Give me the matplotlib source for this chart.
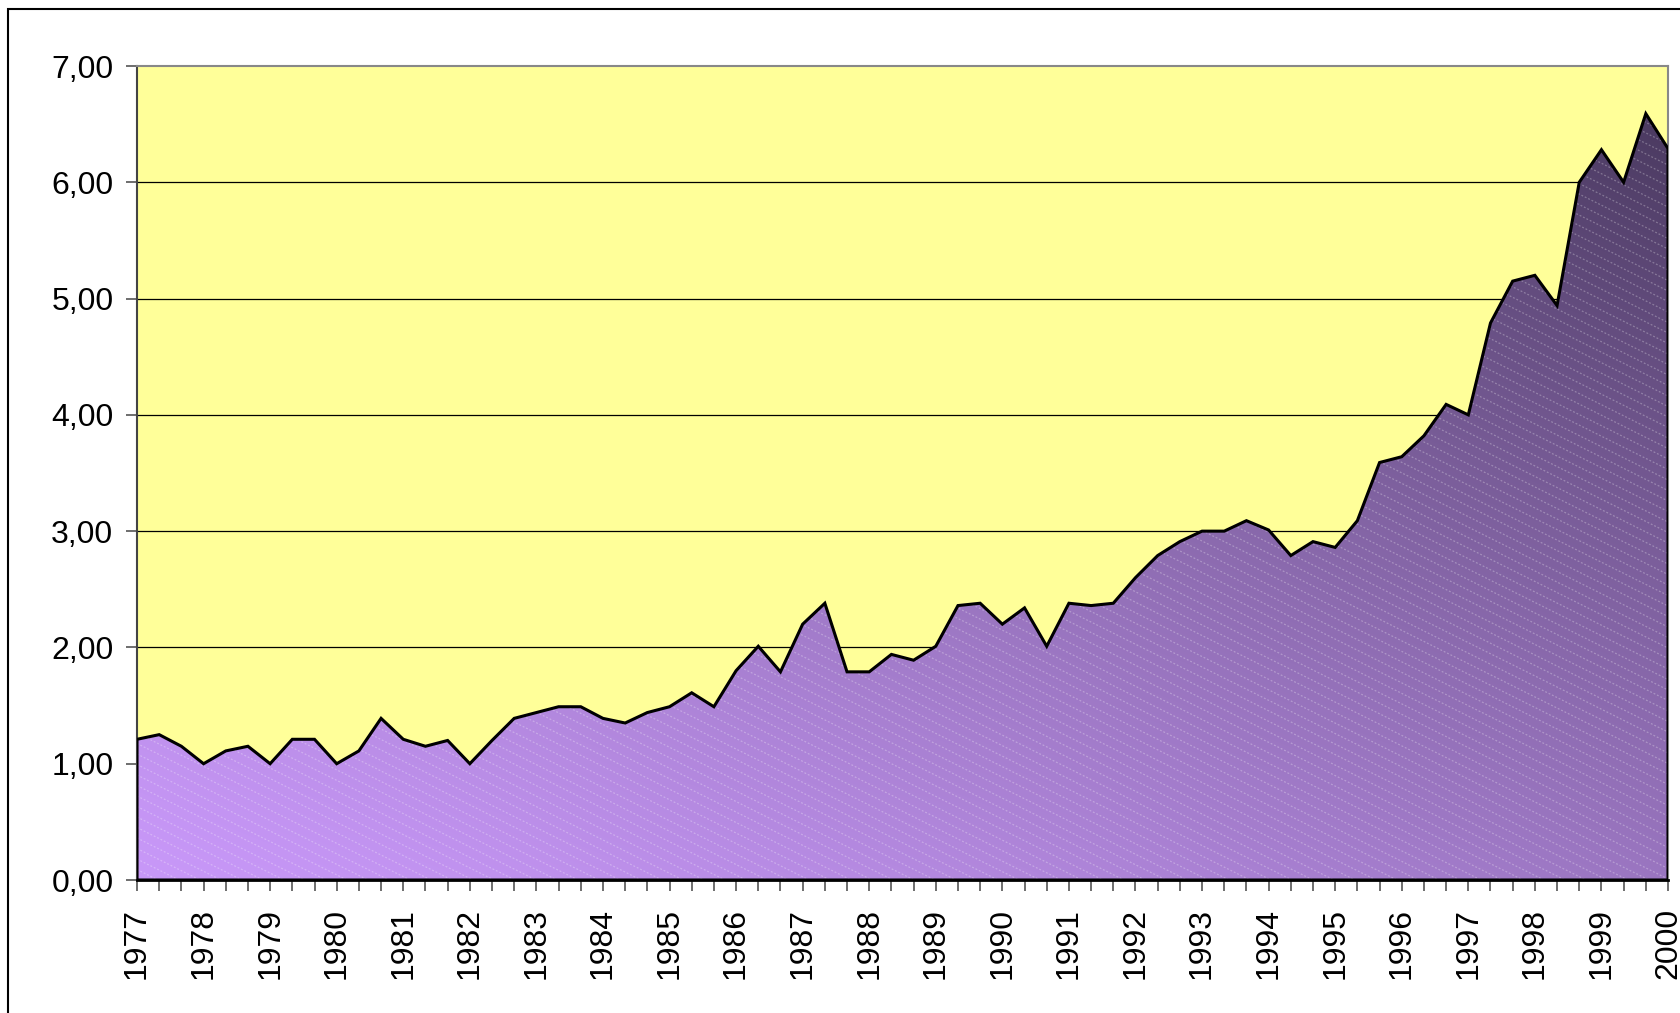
import numpy as np
import matplotlib
matplotlib.use("Agg")
import matplotlib.pyplot as plt
from matplotlib.patches import Polygon, Rectangle
from matplotlib.collections import LineCollection
from matplotlib.ticker import FuncFormatter

plt.rcParams['font.family'] = ['Liberation Sans', 'DejaVu Sans']

# three observations per year, 1977 .. 2000
years = list(range(1977, 2001))
values = [1.21, 1.25, 1.15, 1.00, 1.11, 1.15, 1.00, 1.21, 1.21, 1.00,
          1.11, 1.39, 1.21, 1.15, 1.20, 1.00, 1.20, 1.39, 1.44, 1.49,
          1.49, 1.39, 1.35, 1.44, 1.49, 1.61, 1.49, 1.80, 2.01, 1.79,
          2.20, 2.38, 1.79, 1.79, 1.94, 1.89, 2.01, 2.36, 2.38, 2.20,
          2.34, 2.01, 2.38, 2.36, 2.38, 2.60, 2.79, 2.91, 3.00, 3.00,
          3.09, 3.01, 2.79, 2.91, 2.86, 3.09, 3.59, 3.64, 3.82, 4.09,
          4.00, 4.79, 5.15, 5.20, 4.94, 6.00, 6.28, 6.00, 6.59, 6.29]
per_year = 3

x = np.arange(len(values))
y = np.array(values)
xmax = x[-1]

fig = plt.figure(figsize=(16.81, 10.13), dpi=100)
fig.patch.set_facecolor("white")
ax = fig.add_axes([137/1681, 1-880/1013, (1668-137)/1681, (880-66)/1013])
ax.set_facecolor("#FFFF99")
ax.set_xlim(0, xmax)
ax.set_ylim(0, 7)

# grid lines behind the area
for g in range(1, 7):
    ax.axhline(g, color="black", lw=0.9, zorder=1)

# area polygon
verts = np.column_stack([np.concatenate([x, [xmax, 0]]),
                         np.concatenate([y, [0, 0]])])
poly = Polygon(verts, closed=True, facecolor="none", edgecolor="none")
ax.add_patch(poly)

# diagonal gradient, light lavender bottom-left to dark purple top-right
gx, gy = np.meshgrid(np.linspace(0, 1, 400), np.linspace(0, 1, 300))
t = np.clip(0.45 * gx + 0.6 * gy, 0, 1) ** 1.25
t = t[..., None]
c0 = np.array([200, 152, 248]) / 255
c1 = np.array([76, 59, 98]) / 255
img = c0 + (c1 - c0) * t
im = ax.imshow(img, extent=[0, xmax, 0, 7], origin="lower", aspect="auto",
               interpolation="bilinear", zorder=2)
im.set_clip_path(poly)

# faint dotted diagonal texture
w_px, h_px = 1531, 814
slope = -0.5 * w_px / h_px
step = 10.5 / h_px
segs = []
b = 0.0
while b < 1 - slope + step:
    segs.append([(0, b), (1, b + slope)])
    b += step
lc = LineCollection(segs, colors=(1, 1, 1, 0.28), linewidths=0.9,
                    linestyles=(0, (1.5, 1.5)), transform=ax.transAxes, zorder=3)
ax.add_collection(lc)
lc.set_clip_path(poly)

# outline
ax.add_patch(Polygon(verts, closed=True, fill=False, edgecolor="black",
                     lw=2.2, zorder=4, joinstyle="miter"))

ax.yaxis.set_major_formatter(FuncFormatter(lambda v, p: f"{v:.2f}".replace(".", ",")))
ax.set_yticks(range(0, 8))
ax.set_xticks(x, minor=True)
ax.set_xticks(x[::per_year])
ax.set_xticklabels([str(yr) for yr in years], rotation=90)
ax.tick_params(axis="both", which="both", direction="out", length=8,
               width=1.2, color="#555555", labelsize=23)
ax.tick_params(axis="x", which="major", pad=12)
ax.tick_params(axis="y", pad=9)

for side in ["top", "right"]:
    ax.spines[side].set_color("#888888")
    ax.spines[side].set_linewidth(1.5)
ax.spines["left"].set_color("#444444")
ax.spines["left"].set_linewidth(1.5)
ax.spines["bottom"].set_color("black")
ax.spines["bottom"].set_linewidth(2)

# outer chart frame
fig.patches.append(Rectangle((8/1681, -0.1), 1.2, 1 - 9/1013 + 0.1, fill=False,
                             edgecolor="black", lw=1.5, transform=fig.transFigure))

fig.savefig("out.png", dpi=100)
